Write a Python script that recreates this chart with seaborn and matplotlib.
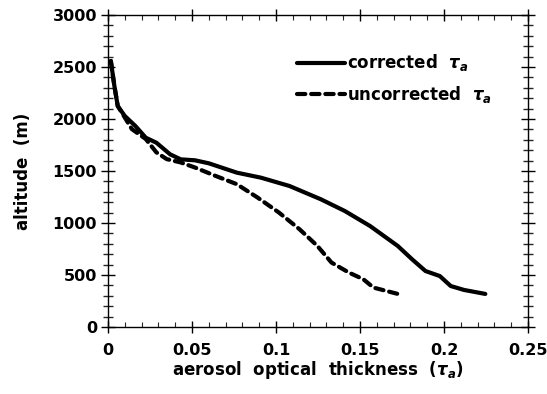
import matplotlib
matplotlib.use("Agg")
import matplotlib.pyplot as plt
import seaborn as sns
from matplotlib.ticker import MultipleLocator

# Data
corr_tau = [0.0017, 0.0038, 0.0058, 0.0100, 0.0163, 0.0225, 0.0288, 0.0370, 0.0433,
            0.0517, 0.0600, 0.0767, 0.0910, 0.1080, 0.1267, 0.1410, 0.1560, 0.1725,
            0.1810, 0.1890, 0.1975, 0.2040, 0.2120, 0.2246]
corr_alt = [2558, 2317, 2125, 2029, 1933, 1820, 1772, 1660, 1612,
            1603, 1574, 1484, 1436, 1356, 1228, 1115, 971, 779,
            651, 538, 490, 394, 356, 318]

unc_tau = [0.0017, 0.0038, 0.0058, 0.0142, 0.0225, 0.0288, 0.0350, 0.0433, 0.0517,
           0.0640, 0.0767, 0.0890, 0.1017, 0.1140, 0.1246, 0.1330, 0.1433, 0.1520,
           0.1580, 0.1725]
unc_alt = [2558, 2317, 2125, 1903, 1807, 1679, 1614, 1582, 1534,
           1453, 1373, 1245, 1101, 940, 780, 620, 524, 459,
           379, 318]

x_ticks = [0, 0.05, 0.1, 0.15, 0.2, 0.25]
x_ticklabels = ['0', '0.05', '0.1', '0.15', '0.2', '0.25']

sns.set_style("ticks")
plt.rcParams['font.family'] = ['DejaVu Sans']
plt.rcParams['font.weight'] = 'bold'
plt.rcParams['mathtext.fontset'] = 'dejavusans'
plt.rcParams['text.color'] = 'black'
plt.rcParams['axes.labelcolor'] = 'black'

fig = plt.figure(figsize=(5.47, 3.94), dpi=100)
ax = fig.add_axes([108/547, 1-327/394, 420/547, 312/394])

sns.lineplot(x=corr_tau, y=corr_alt, ax=ax, sort=False, color='black', lw=3,
             label=r'corrected  $\tau_a$', solid_capstyle='round')
sns.lineplot(x=unc_tau, y=unc_alt, ax=ax, sort=False, color='black', lw=3,
             label=r'uncorrected  $\tau_a$', dash_capstyle='round')
ax.lines[1].set_linestyle((0, (2, 1.4)))

ax.set_xlim(0, 0.25)
ax.set_ylim(0, 3000)
ax.xaxis.set_minor_locator(MultipleLocator(0.01))
ax.yaxis.set_major_locator(MultipleLocator(500))
ax.yaxis.set_minor_locator(MultipleLocator(100))
ax.set_xticks(x_ticks)
ax.set_xticklabels(x_ticklabels)

for s in ax.spines.values():
    s.set_visible(True)
    s.set_linewidth(1.0)
    s.set_color('black')

ax.tick_params(axis='y', which='major', direction='inout', length=10, width=1.0,
               left=True, right=True, labelsize=11.5, pad=3, colors='black')
ax.tick_params(axis='y', which='minor', direction='inout', length=7, width=1.0,
               left=True, right=True)
ax.tick_params(axis='x', which='major', direction='inout', length=9, width=1.0,
               bottom=True, top=True, labelsize=11.5, pad=7, colors='black')
ax.tick_params(axis='x', which='minor', direction='in', length=3.5, width=0.8,
               bottom=True, top=True)

ax.set_xlabel(r'aerosol  optical  thickness  ($\tau_a$)', fontsize=12, fontweight='bold',
              labelpad=1, color='black')
ax.set_ylabel('altitude  (m)', fontsize=12, fontweight='bold', labelpad=15, color='black')

leg = ax.legend(loc='upper left', bbox_to_anchor=(0.45, 0.88), frameon=False,
                handlelength=2.9, handletextpad=0.1, labelspacing=0.65,
                borderpad=0, borderaxespad=0, fontsize=12)
for t in leg.get_texts():
    t.set_fontweight('bold')
    t.set_color('black')

fig.savefig('out.png', dpi=100)
